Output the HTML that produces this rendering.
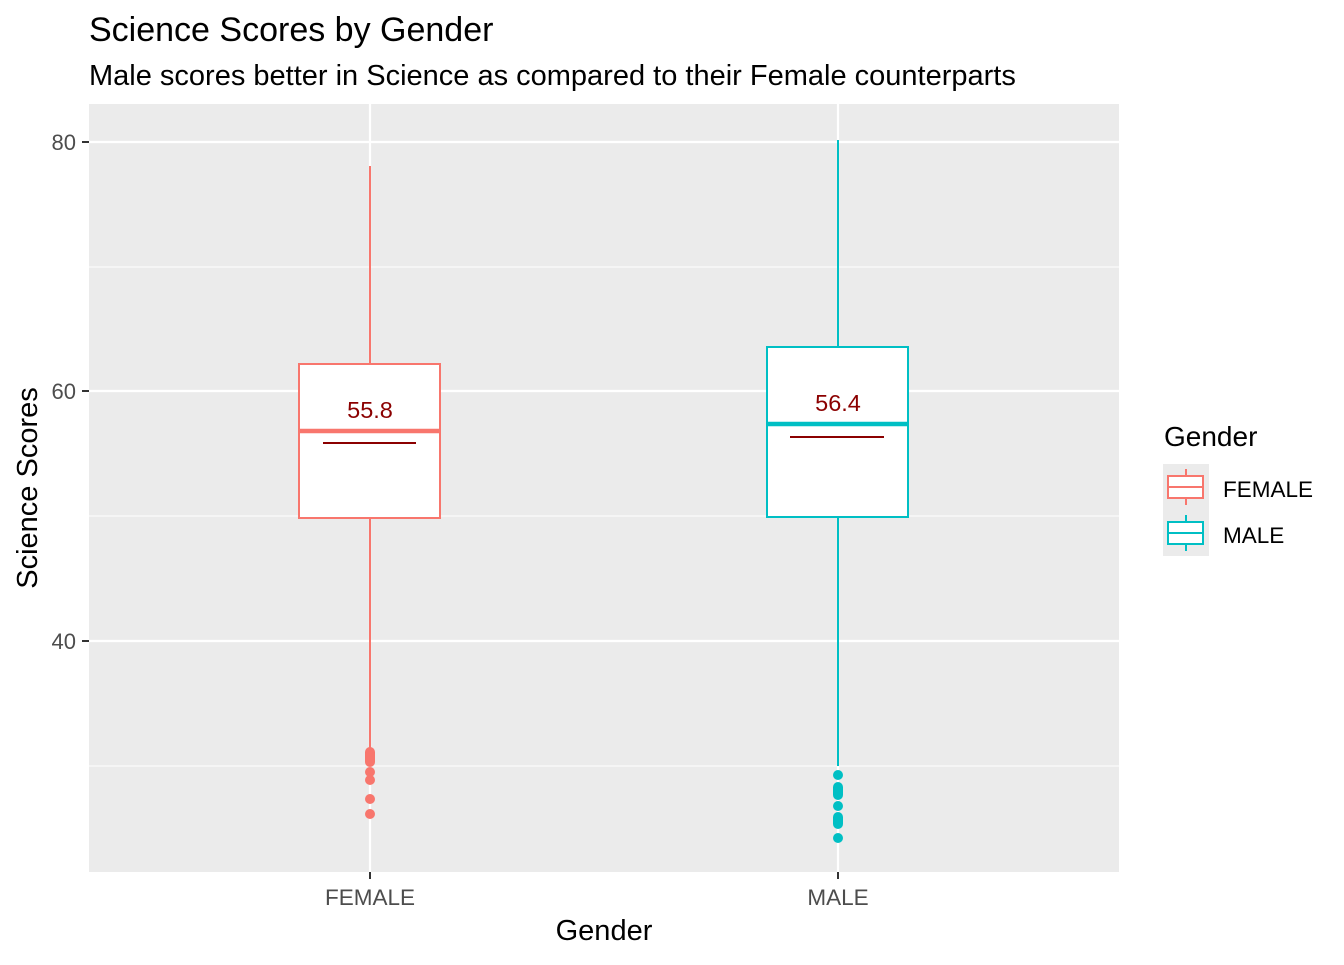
<!DOCTYPE html>
<html><head><style>body{margin:0;background:#fff}</style></head><body>
<svg width="1344" height="960" xmlns="http://www.w3.org/2000/svg" font-family="Liberation Sans, sans-serif">
<rect width="1344" height="960" fill="#fff"/>
<text x="89" y="41" font-size="34" fill="#000">Science Scores by Gender</text>
<text x="89" y="85" font-size="29" fill="#000">Male scores better in Science as compared to their Female counterparts</text>
<rect x="89" y="104" width="1030" height="768" fill="#ebebeb"/>
<g stroke="#fff" stroke-width="1.1">
<line x1="89" x2="1119" y1="267" y2="267"/><line x1="89" x2="1119" y1="516" y2="516"/><line x1="89" x2="1119" y1="766" y2="766"/>
</g>
<g stroke="#fff" stroke-width="2.2">
<line x1="89" x2="1119" y1="142" y2="142"/><line x1="89" x2="1119" y1="391" y2="391"/><line x1="89" x2="1119" y1="641" y2="641"/>
<line x1="370" x2="370" y1="104" y2="872"/><line x1="838" x2="838" y1="104" y2="872"/>
</g>
<g stroke="#f8766d" stroke-width="2" fill="#f8766d">
<line x1="370" x2="370" y1="166" y2="364"/><line x1="370" x2="370" y1="518" y2="750"/>
<rect x="299" y="364" width="141" height="154" fill="#fff"/>
<line x1="299" x2="440" y1="431" y2="431" stroke-width="4.5"/>
<rect x="365" y="747" width="10" height="20" rx="5" stroke="none"/>
<circle cx="370" cy="772" r="5" stroke="none"/><circle cx="370" cy="780" r="5" stroke="none"/>
<circle cx="370" cy="799" r="5" stroke="none"/><circle cx="370" cy="814" r="5" stroke="none"/>
</g>
<g stroke="#00bfc4" stroke-width="2" fill="#00bfc4">
<line x1="838" x2="838" y1="140" y2="347"/><line x1="838" x2="838" y1="517" y2="766"/>
<rect x="767" y="347" width="141" height="170" fill="#fff"/>
<line x1="767" x2="908" y1="424" y2="424" stroke-width="4.5"/>
<circle cx="838" cy="775" r="5" stroke="none"/>
<rect x="833" y="782" width="10" height="18" rx="5" stroke="none"/>
<circle cx="838" cy="806" r="5" stroke="none"/>
<rect x="833" y="812" width="10" height="17" rx="5" stroke="none"/>
<circle cx="838" cy="838" r="5" stroke="none"/>
</g>
<g stroke="#8b0000" stroke-width="2"><line x1="323" x2="416" y1="443" y2="443"/><line x1="790" x2="884" y1="437" y2="437"/></g>
<g fill="#8b0000" font-size="23.5" text-anchor="middle"><text x="370" y="418">55.8</text><text x="838" y="411">56.4</text></g>
<g fill="#4d4d4d" font-size="22" text-anchor="end"><text x="76" y="150">80</text><text x="76" y="399">60</text><text x="76" y="649">40</text></g>
<g stroke="#333" stroke-width="2"><line x1="82" x2="89" y1="142" y2="142"/><line x1="82" x2="89" y1="391" y2="391"/><line x1="82" x2="89" y1="641" y2="641"/>
<line x1="370" x2="370" y1="872" y2="879"/><line x1="838" x2="838" y1="872" y2="879"/></g>
<g fill="#4d4d4d" font-size="22.5" text-anchor="middle"><text x="370" y="905">FEMALE</text><text x="838" y="905">MALE</text></g>
<text x="604" y="940" font-size="29" text-anchor="middle">Gender</text>
<text transform="translate(37,488) rotate(-90)" font-size="29" text-anchor="middle">Science Scores</text>
<text x="1164" y="446" font-size="28">Gender</text>
<rect x="1163" y="464" width="46" height="92" fill="#ebebeb"/>
<g stroke="#f8766d" stroke-width="2" fill="none"><line x1="1186" x2="1186" y1="469" y2="505"/><rect x="1168" y="476" width="35" height="22" fill="#fff"/><line x1="1168" x2="1203" y1="487" y2="487"/></g>
<g stroke="#00bfc4" stroke-width="2" fill="none"><line x1="1186" x2="1186" y1="515" y2="551"/><rect x="1168" y="522" width="35" height="22" fill="#fff"/><line x1="1168" x2="1203" y1="533" y2="533"/></g>
<g font-size="22.5"><text x="1223" y="497">FEMALE</text><text x="1223" y="543">MALE</text></g>
</svg>
</body></html>
